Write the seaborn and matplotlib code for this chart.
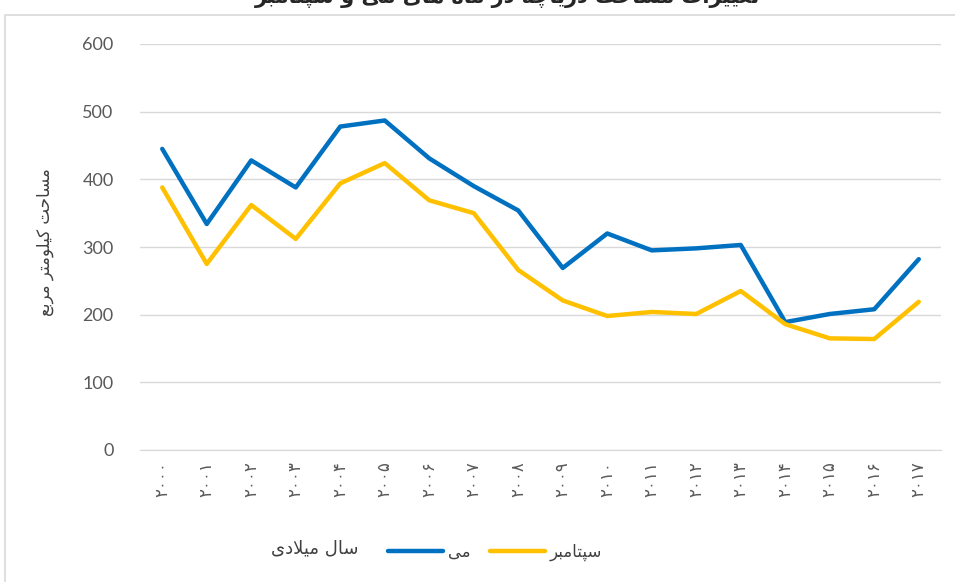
import numpy as np
import pandas as pd
import matplotlib
matplotlib.use("Agg")
import matplotlib.pyplot as plt
from matplotlib.patches import Rectangle
import seaborn as sns

# Data
years = list(range(2000, 2018))
may = [445, 334, 428, 388, 478, 487, 431, 390, 354, 269, 320, 295, 298, 303, 189, 201, 208, 282]
september = [388, 275, 362, 312, 394, 424, 369, 350, 266, 221, 198, 204, 201, 235, 186, 165, 164, 219]
series_names = ["می", "سپتامبر"]
title = "تغییرات مساحت دریاچه در ماه های می و سپتامبر"
y_label = "مساحت کیلومتر مربع"
x_label = "سال میلادی"
y_ticks = [0, 100, 200, 300, 400, 500, 600]

# matplotlib does no Arabic shaping, so map letters to presentation forms
DUAL = {"ب": 0xFE8F, "پ": 0xFB56, "ت": 0xFE95, "ث": 0xFE99, "ج": 0xFE9D, "چ": 0xFB7A,
        "ح": 0xFEA1, "خ": 0xFEA5, "س": 0xFEB1, "ش": 0xFEB5, "ص": 0xFEB9, "ض": 0xFEBD,
        "ط": 0xFEC1, "ظ": 0xFEC5, "ع": 0xFEC9, "غ": 0xFECD, "ف": 0xFED1, "ق": 0xFED5,
        "ک": 0xFB8E, "گ": 0xFB92, "ل": 0xFEDD, "م": 0xFEE1, "ن": 0xFEE5, "ه": 0xFEE9,
        "ی": 0xFBFC}
RIGHT = {"ا": 0xFE8D, "آ": 0xFE81, "د": 0xFEA9, "ذ": 0xFEAB, "ر": 0xFEAD, "ز": 0xFEAF,
         "ژ": 0xFB8A, "و": 0xFEED}


def shape(s):
    out = []
    i = 0
    while i < len(s):
        c = s[i]
        if c not in DUAL and c not in RIGHT:
            out.append(c)
            i += 1
            continue
        prev = s[i - 1] if i > 0 else None
        link_prev = prev in DUAL and not (i >= 2 and s[i - 2:i] == "لا")
        if c == "ل" and i + 1 < len(s) and s[i + 1] == "ا":
            out.append("\uFEFC" if link_prev else "\uFEFB")
            i += 2
            continue
        nxt = s[i + 1] if i + 1 < len(s) else None
        link_next = c in DUAL and (nxt in DUAL or nxt in RIGHT)
        base = DUAL.get(c, RIGHT.get(c))
        if link_prev and link_next:
            f = base + 3
        elif link_next:
            f = base + 2
        elif link_prev:
            f = base + 1
        else:
            f = base
        out.append(chr(f))
        i += 1
    return "".join(reversed(out))


def fa_digits(n):
    return "".join(chr(0x06F0 + int(d)) for d in str(n))


df = pd.DataFrame({
    "year": years * 2,
    "area": may + september,
    "month": [series_names[0]] * len(years) + [series_names[1]] * len(years),
})

sns.set_style("white")
plt.rcParams["font.family"] = ["Lato", "DejaVu Sans"]
fa_font = ["DejaVu Sans"]

fig = plt.figure(figsize=(9.55, 5.82), dpi=100)
ax = fig.add_axes([140 / 955, 1 - 450 / 582, 801 / 955, 406 / 582])

sns.lineplot(data=df, x="year", y="area", hue="month", ax=ax,
             palette=["#0070C0", "#FFC000"], linewidth=3.2, legend=False,
             solid_capstyle="round", solid_joinstyle="round")

ax.set_xlim(1999.5, 2017.5)
ax.set_ylim(0, 600)
ax.set_yticks(y_ticks)
ax.set_yticklabels([str(v) for v in y_ticks], fontsize=13, color="#595959")
ax.set_xticks(years)
ax.set_xticklabels([fa_digits(y) for y in years], rotation=90, fontsize=12,
                   color="#595959", family=["DejaVu Sans"])
ax.tick_params(axis="both", length=0, pad=8)
ax.tick_params(axis="y", pad=19)
ax.grid(axis="y", color="#D9D9D9", linewidth=1)
ax.set_axisbelow(True)
for side in ["top", "right", "left"]:
    ax.spines[side].set_visible(False)
ax.spines["bottom"].set_color("#D9D9D9")
ax.set_xlabel("")
ax.set_ylabel("")

# chart-area border
fig.patches.append(Rectangle((5 / 955, -0.1), 1.2, 1.1 - 15 / 582, transform=fig.transFigure,
                             fill=False, edgecolor="#D9D9D9", linewidth=1.2))

# title sits mostly above the top edge, as in the reference
fig.text(507 / 955, 1 - 3 / 582, shape(title), ha="center", va="baseline", fontsize=15,
         fontweight="bold", family=fa_font)
fig.text(45 / 955, 1 - 242 / 582, shape(y_label), rotation=90, ha="center", va="center",
         fontsize=12, color="#404040", family=fa_font)
fig.text(315 / 955, 1 - 548 / 582, shape(x_label), ha="center", va="center",
         fontsize=13, color="#404040", family=fa_font)

handles = [plt.Line2D([], [], color=c, linewidth=3.2, solid_capstyle="round")
           for c in ["#0070C0", "#FFC000"]]
fig.legend(handles, [shape(n) for n in series_names], loc="center",
           bbox_to_anchor=(495 / 955, 1 - 552 / 582), ncol=2, frameon=False,
           prop={"family": fa_font, "size": 12}, handlelength=3.3,
           handletextpad=0.3, columnspacing=1.2, labelcolor="#404040")

fig.savefig("out.png", dpi=100)
